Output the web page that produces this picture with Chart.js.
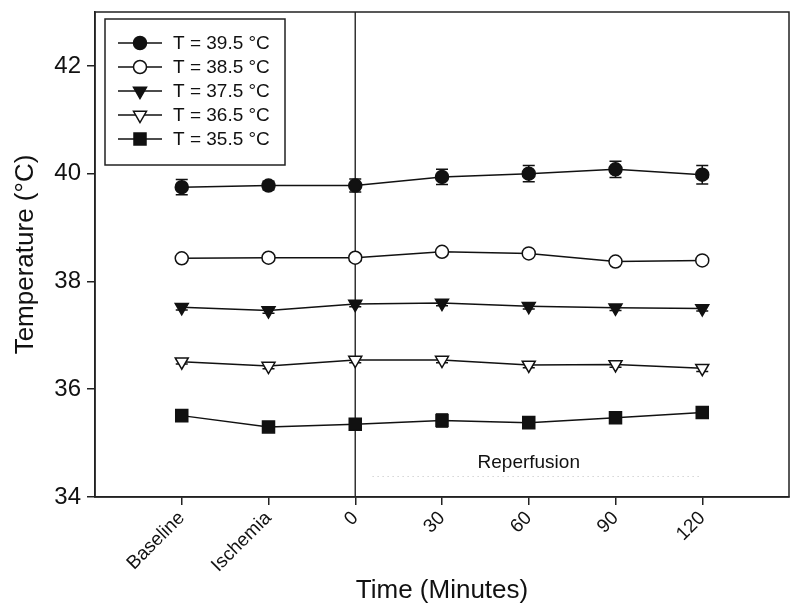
<!DOCTYPE html>
<html><head><meta charset="utf-8">
<script src="https://cdn.jsdelivr.net/npm/chart.js@4/dist/chart.umd.min.js"></script>
<style>html,body{margin:0;padding:0;background:#fff}#wrap{width:800px;height:616px}</style>
</head><body><div id="wrap"><canvas id="c" width="800" height="616"></canvas></div>
<script>
// ---- data ----
const categories = ['Baseline', 'Ischemia', '0', '30', '60', '90', '120'];
const yTicks = [34, 36, 38, 40, 42];
const seriesNames = ['T = 39.5 °C', 'T = 38.5 °C', 'T = 37.5 °C', 'T = 36.5 °C', 'T = 35.5 °C'];
const t395 = [39.75, 39.78, 39.78, 39.94, 40.00, 40.08, 39.98];
const t395err = [0.14, 0.08, 0.12, 0.14, 0.15, 0.15, 0.17];
const t385 = [38.43, 38.44, 38.44, 38.55, 38.52, 38.37, 38.39];
const t385err = [0.03, 0.03, 0.06, 0.04, 0.04, 0.03, 0.03];
const t375 = [37.52, 37.46, 37.58, 37.60, 37.54, 37.51, 37.50];
const t375err = [0.05, 0.05, 0.05, 0.05, 0.05, 0.05, 0.05];
const t365 = [36.51, 36.43, 36.54, 36.54, 36.45, 36.46, 36.39];
const t365err = [0.04, 0.05, 0.05, 0.05, 0.05, 0.05, 0.06];
const t355 = [35.51, 35.30, 35.35, 35.42, 35.38, 35.47, 35.57];
const t355err = [0.04, 0.05, 0.06, 0.12, 0.04, 0.05, 0.04];
const reperfusionStart = 2;          // index of "0" minutes
const reperfusionLabel = 'Reperfusion';
const reperfusionLabelPos = {x: 4, y: 34.63};
const reperfusionDots = {x1: 2.2, x2: 5.97, y: 34.38};

const seriesValues = [t395, t385, t375, t365, t355];
const seriesErrors = [t395err, t385err, t375err, t365err, t355err];
const markerStyles = [
  {pointStyle: 'circle', fill: '#111', radius: 6.5, rotation: 0},
  {pointStyle: 'circle', fill: '#fff', radius: 6.5, rotation: 0},
  {pointStyle: 'triangle', fill: '#111', radius: 7.5, rotation: 180},
  {pointStyle: 'triangle', fill: '#fff', radius: 7.5, rotation: 180},
  {pointStyle: 'rect', fill: '#111', radius: 8.5, rotation: 0}
];
const FONT = "'Liberation Sans', Arial, sans-serif";

const datasets = seriesValues.map((vals, i) => ({
  label: seriesNames[i],
  data: vals.map((v, j) => ({x: j, y: v})),
  borderColor: '#111',
  borderWidth: 1.5,
  backgroundColor: markerStyles[i].fill,
  pointStyle: markerStyles[i].pointStyle,
  pointRadius: markerStyles[i].radius,
  pointRotation: markerStyles[i].rotation,
  pointBackgroundColor: markerStyles[i].fill,
  pointBorderColor: '#111',
  pointBorderWidth: 1.5,
  tension: 0,
  fill: false
}));

function drawMarkerPath(ctx, style, r, rot, x, y) {
  if (style === 'circle') { ctx.arc(x, y, r, 0, Math.PI * 2); return; }
  if (style === 'rect') { const s = r * Math.SQRT1_2; ctx.rect(x - s, y - s, 2 * s, 2 * s); return; }
  const rad = rot * Math.PI / 180;
  for (let k = 0; k < 3; k++) {
    const ang = rad - Math.PI / 2 + k * 2 * Math.PI / 3;
    const px = x + r * Math.cos(ang), py = y + r * Math.sin(ang);
    if (k === 0) ctx.moveTo(px, py); else ctx.lineTo(px, py);
  }
  ctx.closePath();
}

const annotations = {
  id: 'annotations',
  beforeDatasetsDraw(chart) {
    const {ctx, chartArea: a, scales: {x, y}} = chart;
    ctx.save();
    // reperfusion start line
    const xv = x.getPixelForValue(reperfusionStart);
    ctx.strokeStyle = '#333';
    ctx.lineWidth = 1.5;
    ctx.beginPath(); ctx.moveTo(xv, a.top); ctx.lineTo(xv, a.bottom); ctx.stroke();
    // faint dotted line
    ctx.strokeStyle = '#bdbdbd';
    ctx.lineWidth = 1;
    ctx.setLineDash([1, 4]);
    const yd = y.getPixelForValue(reperfusionDots.y);
    ctx.beginPath();
    ctx.moveTo(x.getPixelForValue(reperfusionDots.x1), yd);
    ctx.lineTo(x.getPixelForValue(reperfusionDots.x2), yd);
    ctx.stroke();
    ctx.setLineDash([]);
    // label
    ctx.fillStyle = '#111';
    ctx.font = '19px ' + FONT;
    ctx.textAlign = 'center';
    ctx.textBaseline = 'middle';
    ctx.fillText(reperfusionLabel, x.getPixelForValue(reperfusionLabelPos.x), y.getPixelForValue(reperfusionLabelPos.y));
    // error bars
    ctx.strokeStyle = '#111';
    ctx.lineWidth = 1.5;
    seriesValues.forEach((vals, i) => {
      vals.forEach((v, j) => {
        const e = seriesErrors[i][j];
        const px = x.getPixelForValue(j);
        const y1 = y.getPixelForValue(v - e), y2 = y.getPixelForValue(v + e);
        ctx.beginPath();
        ctx.moveTo(px, y1); ctx.lineTo(px, y2);
        ctx.moveTo(px - 6, y1); ctx.lineTo(px + 6, y1);
        ctx.moveTo(px - 6, y2); ctx.lineTo(px + 6, y2);
        ctx.stroke();
      });
    });
    ctx.restore();
  },
  afterDraw(chart) {
    const {ctx, chartArea: a} = chart;
    ctx.save();
    // frame
    ctx.strokeStyle = '#222';
    ctx.lineWidth = 1.5;
    ctx.strokeRect(a.left, a.top, a.right - a.left, a.bottom - a.top);
    // legend
    const bx = a.left + 10, by = a.top + 7, bw = 180, bh = 146;
    ctx.fillStyle = '#fff';
    ctx.fillRect(bx, by, bw, bh);
    ctx.strokeStyle = '#222';
    ctx.lineWidth = 1.5;
    ctx.strokeRect(bx, by, bw, bh);
    ctx.font = '19px ' + FONT;
    ctx.textAlign = 'left';
    ctx.textBaseline = 'middle';
    chart.data.datasets.forEach((ds, i) => {
      const cy = by + 24 + i * 24;
      ctx.strokeStyle = '#111';
      ctx.lineWidth = 1.5;
      ctx.beginPath(); ctx.moveTo(bx + 13, cy); ctx.lineTo(bx + 57, cy); ctx.stroke();
      ctx.fillStyle = ds.pointBackgroundColor;
      ctx.beginPath();
      drawMarkerPath(ctx, ds.pointStyle, ds.pointRadius, ds.pointRotation, bx + 35, cy);
      ctx.fill(); ctx.stroke();
      ctx.fillStyle = '#111';
      ctx.fillText(ds.label, bx + 68, cy + 1);
    });
    ctx.restore();
  }
};

new Chart(document.getElementById('c'), {
  type: 'line',
  data: {datasets},
  plugins: [annotations],
  options: {
    responsive: false,
    devicePixelRatio: 1,
    animation: false,
    layout: {padding: {top: 12, right: 11, left: 0, bottom: 0}},
    plugins: {legend: {display: false}, tooltip: {enabled: false}},
    scales: {
      x: {
        type: 'linear', min: -1, max: 7,
        afterBuildTicks: (s) => { s.ticks = categories.map((c, i) => ({value: i})); },
        afterFit: (s) => { s.height = 119; },
        grid: {drawOnChartArea: false, drawTicks: true, tickLength: 8, color: '#222', lineWidth: 1.5},
        border: {display: true, color: '#222', width: 1.5},
        ticks: {
          autoSkip: false, maxRotation: 45, minRotation: 45, padding: 2,
          color: '#111', font: {family: FONT, size: 19},
          callback: (v, i) => categories[i]
        },
        title: {display: true, text: 'Time (Minutes)', color: '#111',
          font: {family: FONT, size: 26}, padding: {top: 0, bottom: 10}}
      },
      y: {
        min: 34, max: 43,
        afterBuildTicks: (s) => { s.ticks = yTicks.map(v => ({value: v})); },
        afterFit: (s) => { s.width = 95; s.paddingTop = 0; s.paddingBottom = 0; },
        grid: {drawOnChartArea: false, drawTicks: true, tickLength: 8, color: '#222', lineWidth: 1.5},
        border: {display: true, color: '#222', width: 1.5},
        ticks: {padding: 6, color: '#111', font: {family: FONT, size: 24}},
        title: {display: true, text: 'Temperature (°C)', color: '#111',
          font: {family: FONT, size: 26}, padding: {top: 10, bottom: 0}}
      }
    }
  }
});
</script></body></html>
